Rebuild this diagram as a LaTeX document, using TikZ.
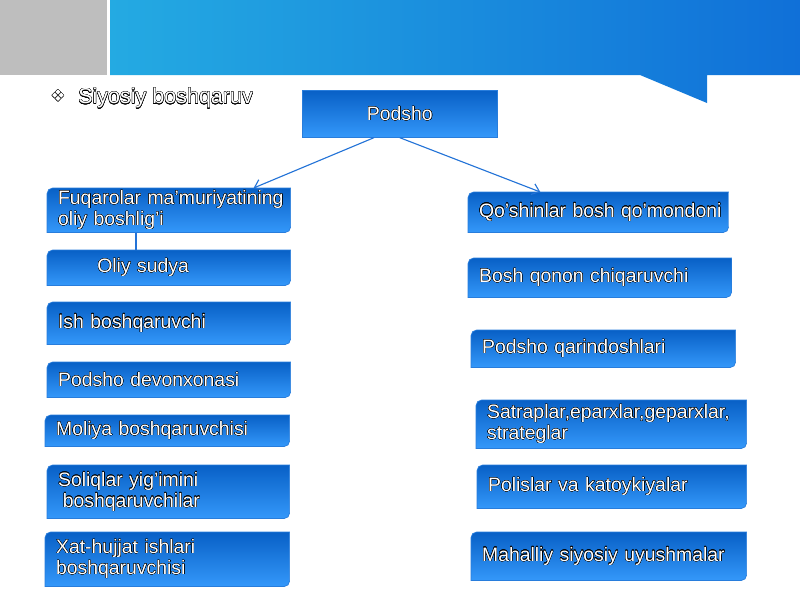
\documentclass[tikz,border=0pt]{standalone}
\usepackage{fontspec}
\setmainfont{Liberation Sans}
\newfontfamily\symfont{DejaVu Sans}
\usepackage{contour}
\contourlength{0.2pt}
\usetikzlibrary{backgrounds,arrows.meta}
\definecolor{boxtop}{RGB}{8,96,198}
\definecolor{boxbot}{RGB}{52,152,250}
\definecolor{boxedge}{RGB}{40,125,220}
\definecolor{linkblue}{RGB}{35,115,215}
\definecolor{banleft}{RGB}{36,170,226}
\definecolor{banright}{RGB}{16,112,216}
\definecolor{bangray}{RGB}{190,190,190}
\newcommand{\outl}[1]{\contour{black}{#1}}
\tikzset{
  >={Straight Barb[length=5pt,width=8pt]},
  bx/.style 2 args={box,minimum width=#1cm,text width=#1cm-0.54cm,minimum height=#2cm},
}
\tikzstyle{every node}=[font=\fontsize{13.8}{14.9}\selectfont]
\tikzstyle{link}=[linkblue,line width=0.8pt]
\tikzstyle{box}=[anchor=north west,text=white,inner xsep=0.27cm,inner ysep=0pt,align=left]
\tikzstyle{boxshade}=[top color=boxtop,bottom color=boxbot,draw=boxedge,line width=0.5pt]

\begin{document}
\begin{tikzpicture}[x=0.025cm,y=-0.025cm]
    \useasboundingbox (0,0) rectangle (800,600);
    \fill[bangray] (0,0) rectangle (107,75);
    \shade[left color=banleft,right color=banright] (110,0) -- (800,0) -- (800,75) -- (707,75) -- (707,103) -- (640,75) -- (110,75) -- cycle;

    \node[text=white,inner sep=0,font=\symfont\fontsize{11.5}{12}\selectfont] (bul) at (58,96) {\outl{❖}};
    \node[text=white,inner sep=0,anchor=west,font=\fontsize{15.3}{18}\selectfont] (head) at (78,98.5) {\outl{Siyosiy boshqaruv}};
    \node[boxshade,text=white,anchor=north west,minimum width=4.875cm,minimum height=1.175cm] (podsho) at (302,90) {\outl{Podsho}};

    \node[bx={6.075}{1.1}] (fuq) at (47,188) {\outl{Fuqarolar ma’muriyatining}\\\outl{oliy boshlig’i}};
    \node[bx={6.075}{0.875}] (sud) at (47,250) {\hspace*{0.98cm}\outl{Oliy sudya}};
    \node[bx={6.075}{1.05}] (ish) at (47,302) {\outl{Ish boshqaruvchi}};
    \node[bx={6.075}{0.875}] (dev) at (47,362) {\outl{Podsho devonxonasi}};
    \node[bx={6.1}{0.775}] (mol) at (45,415) {\outl{Moliya boshqaruvchisi}};
    \node[bx={6.05}{1.325}] (sol) at (47,465) {\outl{Soliqlar yig’imini}\\\hspace*{0.12cm}\outl{boshqaruvchilar}};
    \node[bx={6.1}{1.35}] (xat) at (45,532) {\outl{Xat-hujjat ishlari}\\\outl{boshqaruvchisi}};

    \node[bx={6.5}{1.0}] (qosh) at (468,192) {\outl{Qo’shinlar bosh qo’mondoni}};
    \node[bx={6.575}{0.975}] (qon) at (468,258) {\outl{Bosh qonon chiqaruvchi}};
    \node[bx={6.6}{0.925}] (qar) at (471,330) {\outl{Podsho qarindoshlari}};
    \node[bx={6.75}{1.2}] (sat) at (476,400) {\outl{Satraplar,eparxlar,geparxlar,}\\\outl{strateglar}};
    \node[bx={6.725}{1.075}] (pol) at (477,465) {\outl{Polislar va katoykiyalar}};
    \node[bx={6.875}{1.2}] (mah) at (471,532) {\outl{Mahalliy siyosiy uyushmalar}};

    \begin{scope}[on background layer]
      \foreach \n in {fuq,sud,ish,dev,mol,sol,xat,qosh,qon,qar,sat,pol,mah}
        \path[boxshade] (\n.south west) -- ([yshift=-4pt]\n.north west) arc[start angle=180,end angle=90,radius=4pt] -- (\n.north east) -- ([yshift=4pt]\n.south east) arc[start angle=0,end angle=-90,radius=4pt] -- cycle;
    \end{scope}

    \draw[link,->] ([xshift=-0.65cm]podsho.south) -- ([xshift=-0.925cm]fuq.north east);
    \draw[link,->] (podsho.south) -- ([xshift=-1.45cm]qosh.north);
    \draw[link] ([xshift=-0.82cm]fuq.south) -- ([xshift=-0.82cm]sud.north);
\end{tikzpicture}
\end{document}
